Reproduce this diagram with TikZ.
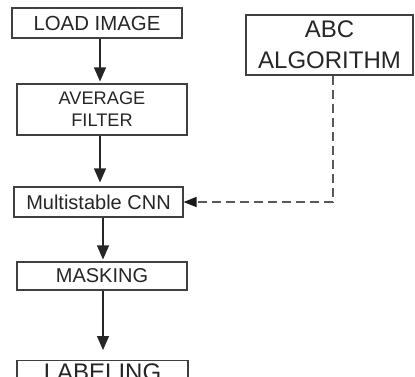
\documentclass[tikz,border=0pt]{standalone}
\usepackage{fontspec}
\setmainfont{Liberation Sans}
\usetikzlibrary{arrows.meta}
\begin{document}
\begin{tikzpicture}[x=1pt,y=-1pt,
  box/.style={draw=black!75,line width=1.1pt,fill=white,text=black!85,inner sep=0pt,align=center},
  flow/.style={draw=black!85,line width=1.2pt,-{Triangle[length=14pt,width=12pt]}},
  dashflow/.style={draw=black!65,line width=1.3pt,dash pattern=on 9pt off 5pt,-{Triangle[length=13pt,width=10pt,color=black!90]}}]
\path[use as bounding box] (0,0) rectangle (415,376);
\clip (0,0) rectangle (415,376);
\node[box,minimum width=170pt,minimum height=30pt,font=\fontsize{20.4}{22}\selectfont] (load) at (97,23) {LOAD IMAGE};
\node[box,minimum width=170pt,minimum height=51pt,font=\fontsize{18.2}{22}\selectfont] (avg) at (102,109.5) {AVERAGE\\FILTER};
\node[box,minimum width=169pt,minimum height=30pt,font=\fontsize{20}{22}\selectfont] (cnn) at (98.5,202) {Multistable CNN};
\node[box,minimum width=170pt,minimum height=28pt,font=\fontsize{20}{22}\selectfont] (mask) at (102,276) {MASKING};
\node[box,anchor=north,minimum width=171pt,inner ysep=3pt,text height=17pt,text depth=0pt,font=\fontsize{24}{28}\selectfont] (label) at (102.5,360) {LABELING};
\node[box,minimum width=167pt,minimum height=60pt,font=\fontsize{24}{31}\selectfont] (abc) at (329.5,45) {ABC\\ALGORITHM};
\coordinate (x1) at (100,0);
\coordinate (x2) at (103,0);
\coordinate (xd) at (333,0);
\draw[flow,shorten >=2pt] (load.south -| x1) -- (avg.north -| x1);
\draw[flow,shorten >=4pt] (avg.south -| x1) -- (cnn.north -| x1);
\draw[flow,shorten >=2pt] (cnn.south -| x2) -- (mask.north -| x2);
\draw[flow,shorten >=10pt] (mask.south -| x2) -- (label.north -| x2);
\draw[dashflow] (abc.south -| xd) |- (cnn.east);
\end{tikzpicture}
\end{document}
